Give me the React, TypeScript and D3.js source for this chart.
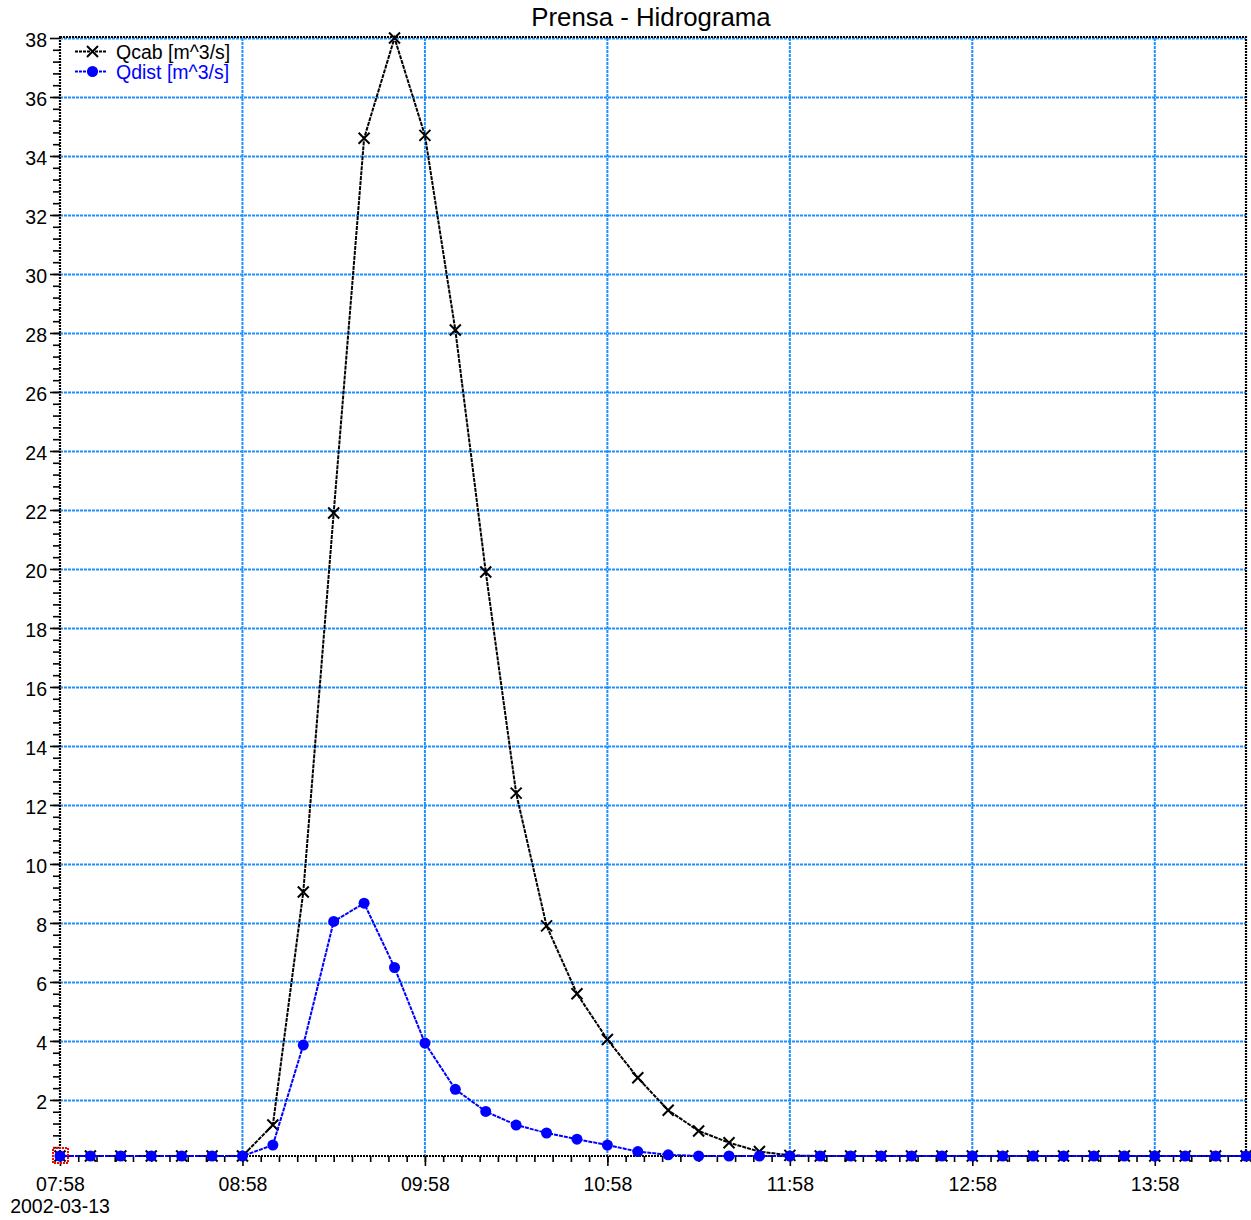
import { useRef, useEffect } from "react";
import * as d3 from "d3";

// 10-minute samples, 2002-03-13
const times = [
  "07:58", "08:08", "08:18", "08:28", "08:38", "08:48", "08:58", "09:08", "09:18", "09:28",
  "09:38", "09:48", "09:58", "10:08", "10:18", "10:28", "10:38", "10:48", "10:58", "11:08",
  "11:18", "11:28", "11:38", "11:48", "11:58", "12:08", "12:18", "12:28", "12:38", "12:48",
  "12:58", "13:08", "13:18", "13:28", "13:38", "13:48", "13:58", "14:08", "14:18", "14:28",
];
const qcab = [
  0.1, 0.1, 0.1, 0.1, 0.1, 0.1, 0.1, 1.15, 9.05, 21.9,
  34.6, 38.0, 34.7, 28.1, 19.9, 12.4, 7.9, 5.6, 4.05, 2.75,
  1.65, 0.95, 0.55, 0.25, 0.12, 0.1, 0.1, 0.1, 0.1, 0.1,
  0.1, 0.1, 0.1, 0.1, 0.1, 0.1, 0.1, 0.1, 0.1, 0.1,
];
const qdist = [
  0.1, 0.1, 0.1, 0.1, 0.1, 0.1, 0.1, 0.47, 3.86, 8.05,
  8.67, 6.49, 3.93, 2.36, 1.61, 1.15, 0.88, 0.67, 0.47, 0.25,
  0.14, 0.1, 0.1, 0.1, 0.1, 0.1, 0.1, 0.1, 0.1, 0.1,
  0.1, 0.1, 0.1, 0.1, 0.1, 0.1, 0.1, 0.1, 0.1, 0.1,
];
const hourTicks = ["07:58", "08:58", "09:58", "10:58", "11:58", "12:58", "13:58"];
const yTicks = [2, 4, 6, 8, 10, 12, 14, 16, 18, 20, 22, 24, 26, 28, 30, 32, 34, 36, 38];
const dateLabel = "2002-03-13";
const title = "Prensa - Hidrograma";
const series = [
  { name: "Qcab [m^3/s]", values: qcab, color: "#000000", marker: "x" },
  { name: "Qdist [m^3/s]", values: qdist, color: "#0000ff", marker: "dot" },
];

const FONT = "'Liberation Sans', Arial, sans-serif";
const GRID = "#1e8fff";
const FS = 19.5;

export default function App() {
  const ref = useRef<SVGSVGElement>(null);

  useEffect(() => {
    if (!ref.current) return;
    document.body.style.margin = "0";
    const W = 1251, H = 1220;
    const L = 60, R = 1246, T = 38, B = 1156;
    const svg = d3.select(ref.current).attr("width", W).attr("height", H);
    svg.selectAll("*").remove();

    const parse = d3.timeParse("%H:%M");
    const dates = times.map((t) => parse(t) as Date);
    const x = d3.scaleTime().domain([dates[0], dates[dates.length - 1]]).range([L, R]);
    const y = d3.scaleLinear().domain([0.1, 38]).range([B, T]);

    const majorX = hourTicks.map((t) => parse(t) as Date);
    const minorX = d3.range(0, 391, 6).map((m) => d3.timeMinute.offset(dates[0], m));
    const minorY = d3.range(1, 95).map((k) => k * 0.4);

    // grid
    const grid = svg.append("g").attr("stroke", GRID).attr("stroke-width", 2).attr("stroke-dasharray", "3,1");
    grid.selectAll("line.h").data(yTicks).join("line")
      .attr("x1", L).attr("x2", R).attr("y1", (d) => y(d) + 0.5).attr("y2", (d) => y(d) + 0.5);
    grid.selectAll("line.v").data(majorX.slice(1)).join("line")
      .attr("x1", (d) => x(d)).attr("x2", (d) => x(d)).attr("y1", T).attr("y2", B);

    // frame
    svg.append("rect").attr("x", L).attr("y", T - 1).attr("width", R - L).attr("height", B - T + 1)
      .attr("fill", "none").attr("stroke", "#000").attr("stroke-width", 2.2).attr("stroke-dasharray", "2,1");

    // axes
    const xMinor = svg.append("g").attr("transform", `translate(0,${B})`)
      .call(d3.axisBottom(x).tickValues(minorX).tickSize(6).tickFormat(() => ""));
    const xMajor = svg.append("g").attr("transform", `translate(0,${B})`)
      .call(d3.axisBottom(x).tickValues(majorX).tickSize(10).tickPadding(11).tickFormat(d3.timeFormat("%H:%M") as any));
    const yMinor = svg.append("g").attr("transform", `translate(${L},0)`)
      .call(d3.axisLeft(y).tickValues(minorY).tickSize(7).tickFormat(() => ""));
    const yMajor = svg.append("g").attr("transform", `translate(${L},0)`)
      .call(d3.axisLeft(y).tickValues(yTicks).tickSize(10).tickPadding(3));
    [xMinor, xMajor, yMinor, yMajor].forEach((g) => {
      g.select(".domain").remove();
      g.selectAll("line").attr("stroke", "#000").attr("stroke-width", 1.6);
      g.selectAll("text").attr("font-family", FONT).attr("font-size", FS).attr("fill", "#000");
    });
    yMajor.selectAll("text").attr("dy", "0.45em");

    svg.append("text").attr("x", L).attr("y", 1213).attr("text-anchor", "middle")
      .attr("font-family", FONT).attr("font-size", FS).text(dateLabel);
    svg.append("text").attr("x", 651).attr("y", 26).attr("text-anchor", "middle")
      .attr("font-family", FONT).attr("font-size", 25.8).text(title);

    // series
    const line = d3.line<number>().x((_, i) => x(dates[i])).y((d) => y(d));
    const drawMarker = (g: any, cx: number, cy: number, s: any) => {
      if (s.marker === "x") {
        g.append("path").attr("d", `M${cx - 5.5},${cy - 5.5}L${cx + 5.5},${cy + 5.5}M${cx - 5.5},${cy + 5.5}L${cx + 5.5},${cy - 5.5}`)
          .attr("stroke", s.color).attr("stroke-width", 2);
      } else {
        g.append("circle").attr("cx", cx).attr("cy", cy).attr("r", 5.5).attr("fill", s.color);
      }
    };
    series.forEach((s) => {
      const g = svg.append("g");
      g.append("path").datum(s.values).attr("d", line).attr("fill", "none")
        .attr("stroke", s.color).attr("stroke-width", 2).attr("stroke-dasharray", "4,1");
      s.values.forEach((v, i) => drawMarker(g, x(dates[i]), y(v), s));
    });

    // legend
    const lg = svg.append("g");
    series.forEach((s, i) => {
      const cy = 51.5 + i * 20;
      lg.append("line").attr("x1", 75).attr("x2", 106).attr("y1", cy).attr("y2", cy)
        .attr("stroke", s.color).attr("stroke-width", 1.8).attr("stroke-dasharray", "3,1");
      drawMarker(lg, 92.5, cy, s);
      lg.append("text").attr("x", 116).attr("y", cy + 7.5).attr("font-family", FONT)
        .attr("font-size", FS).attr("fill", s.color).text(s.name);
    });

    // selection marker on first sample
    svg.append("rect").attr("x", x(dates[0]) - 7).attr("y", y(qdist[0]) - 8).attr("width", 15).attr("height", 15)
      .attr("fill", "none").attr("stroke", "#ff0000").attr("stroke-width", 2).attr("stroke-dasharray", "2,1");
  }, []);

  return <svg ref={ref} style={{ display: "block" }} />;
}
